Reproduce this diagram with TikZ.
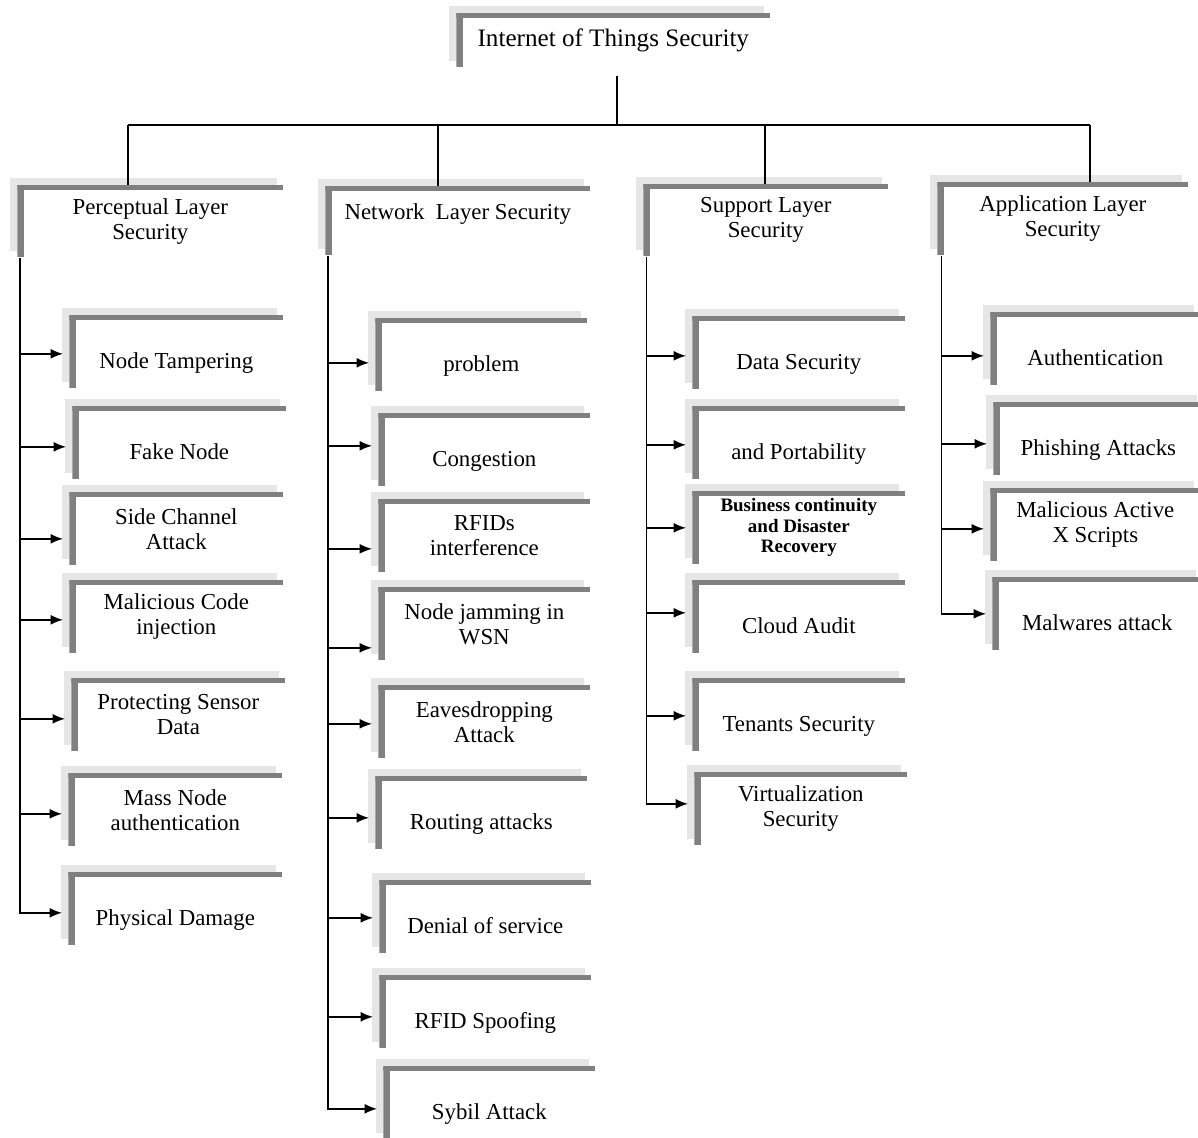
\documentclass[tikz,border=0pt]{standalone}
\usepackage{fontspec}
\setmainfont{Liberation Serif}
\usetikzlibrary{arrows.meta,backgrounds}

\definecolor{bargray}{RGB}{128,128,128}
\definecolor{shadegray}{RGB}{230,230,230}

\tikzset{
  secbox/.style={rectangle, fill=white, anchor=north west, inner sep=2pt, align=center,
    font=\fontsize{13}{14.2}\selectfont,
    path picture={
      \fill[bargray] (path picture bounding box.north west) rectangle ([xshift=0.13cm]path picture bounding box.south west);
      \fill[bargray] (path picture bounding box.north west) rectangle ([yshift=-0.1cm]path picture bounding box.north east);
    }},
  layerbox/.style={secbox, minimum height=1.44cm},
  leafbox/.style={secbox, minimum width=4.28cm, minimum height=1.46cm},
  oneline/.style={text height=22pt, text depth=3pt},
  wire/.style={line width=0.8pt},
  feed/.style={line width=0.8pt, -{Latex[length=0.25cm,width=0.2cm]}, shorten >=0.12cm},
}

\begin{document}
\begin{tikzpicture}[x=0.02cm, y=-0.02cm]
  \useasboundingbox (0,0) rectangle (1198,1138);

  % root and layers
  \node[secbox, minimum width=6.28cm, minimum height=1.08cm, font=\fontsize{14.3}{16}\selectfont] (iot) at (456,13) {Internet of Things Security};
  \node[layerbox, minimum width=5.32cm] (pl) at (17,185) {Perceptual Layer\\Security};
  \node[layerbox, minimum width=5.3cm, minimum height=1.38cm, text height=9pt, text depth=11pt] (nl) at (325,186) {Network~ Layer Security};
  \node[layerbox, minimum width=4.9cm] (sl) at (643,184) {Support Layer\\Security};
  \node[layerbox, minimum width=5.02cm, minimum height=1.46cm] (al) at (937,182) {Application Layer\\Security};

  % perceptual layer
  \node[leafbox, oneline] (pnt) at (69,315) {Node Tampering};
  \node[leafbox, oneline] (pfn) at (72,406) {Fake Node};
  \node[leafbox] (psc) at (69,492) {Side Channel\\Attack};
  \node[leafbox] (pmc) at (69,580) {Malicious Code\\injection};
  \node[leafbox] (pps) at (71,678) {Protecting Sensor\\Data};
  \node[leafbox] (pmn) at (68,773) {Mass Node\\authentication};
  \node[leafbox, oneline] (ppd) at (68,872) {Physical Damage};

  % network layer
  \node[leafbox, minimum width=4.24cm, oneline] (npr) at (375,318) {problem};
  \node[leafbox, minimum width=4.24cm, oneline] (ncg) at (378,413) {Congestion};
  \node[leafbox, minimum width=4.24cm] (nrf) at (378,499) {RFIDs\\interference};
  \node[leafbox, minimum width=4.24cm] (nnj) at (378,587) {Node jamming in\\WSN};
  \node[leafbox, minimum width=4.24cm] (nev) at (378,685) {Eavesdropping\\Attack};
  \node[leafbox, minimum width=4.24cm, oneline] (nro) at (375,776) {Routing attacks};
  \node[leafbox, minimum width=4.24cm, oneline] (nds) at (379,880) {Denial of service};
  \node[leafbox, minimum width=4.24cm, oneline] (nrs) at (379,975) {RFID Spoofing};
  \node[leafbox, minimum width=4.24cm, oneline] (nsy) at (383,1066) {Sybil Attack};

  % support layer
  \node[leafbox, minimum width=4.26cm, oneline] (sds) at (692,316) {Data Security};
  \node[leafbox, minimum width=4.26cm, oneline] (sdp) at (692,406) {and Portability};
  \node[leafbox, minimum width=4.26cm, font=\fontsize{10.8}{11.6}\selectfont\bfseries] (sbc) at (692,491) {Business continuity\\and Disaster\\Recovery};
  \node[leafbox, minimum width=4.26cm, oneline] (sca) at (692,580) {Cloud Audit};
  \node[leafbox, minimum width=4.26cm, oneline] (sts) at (692,678) {Tenants Security};
  \node[leafbox, minimum width=4.26cm] (svs) at (694,772) {Virtualization\\Security};

  % application layer
  \node[leafbox, minimum width=4.2cm, oneline] (aau) at (990,312) {Authentication};
  \node[leafbox, minimum width=4.2cm, oneline] (aph) at (993,402) {Phishing Attacks};
  \node[leafbox, minimum width=4.2cm] (ama) at (990,488) {Malicious Active\\X Scripts};
  \node[leafbox, minimum width=4.2cm, oneline] (amw) at (992,577) {Malwares attack};

  % light shade behind every box
  \begin{scope}[on background layer]
    \foreach \bx in {iot,pl,nl,sl,al,pnt,pfn,psc,pmc,pps,pmn,ppd,npr,ncg,nrf,nnj,nev,nro,nds,nrs,nsy,sds,sdp,sbc,sca,sts,svs,aau,aph,ama,amw}
      \fill[shadegray] ([shift={(-0.14cm,0.14cm)}]\bx.north west) rectangle ([shift={(-0.14cm,0.14cm)}]\bx.south east);
  \end{scope}

  % bus from the root
  \coordinate (bus) at (617,125);
  \coordinate (dp1) at (128,125);
  \coordinate (dp2) at (438,125);
  \coordinate (dp3) at (765,125);
  \coordinate (dp4) at (1090,125);
  \draw[wire, shorten <=0.16cm] (iot.south -| bus) -- (bus);
  \draw[wire] (dp1) -- (dp4);
  \draw[wire] (dp1) -- (dp1 |- pl.north);
  \draw[wire] (dp2) -- (dp2 |- nl.north);
  \draw[wire] (dp3) -- (dp3 |- sl.north);
  \draw[wire] (dp4) -- (dp4 |- al.north);

  % trunks
  \coordinate (ptr) at ([xshift=0.06cm]pl.south west);
  \coordinate (ntr) at ([xshift=0.06cm]nl.south west);
  \coordinate (str) at ([xshift=0.07cm]sl.south west);
  \coordinate (atr) at ([xshift=0.09cm]al.south west);
  \draw[feed] (ptr) |- ([shift={(0,4)}]ppd.west);
  \draw[feed] (ntr) |- ([shift={(0,6)}]nsy.west);
  \draw[feed] (str) |- ([shift={(0,-5)}]svs.west);
  \draw[feed] (atr) |- (amw.west);
  \foreach \bx/\dy in {pnt/2,pfn/4,psc/10,pmc/3,pps/4,pmn/4}
    \draw[feed] ([shift={(0,\dy)}]ptr |- \bx.west) -- ([shift={(0,\dy)}]\bx.west);
  \foreach \bx/\dy in {npr/8,ncg/-4,nrf/13,nnj/24,nev/2,nro/5,nds/1,nrs/5}
    \draw[feed] ([shift={(0,\dy)}]ntr |- \bx.west) -- ([shift={(0,\dy)}]\bx.west);
  \foreach \bx/\dy in {sds/3,sdp/2,sbc/0,sca/-4,sts/1}
    \draw[feed] ([shift={(0,\dy)}]str |- \bx.west) -- ([shift={(0,\dy)}]\bx.west);
  \foreach \bx/\dy in {aau/7,aph/5,ama/4}
    \draw[feed] ([shift={(0,\dy)}]atr |- \bx.west) -- ([shift={(0,\dy)}]\bx.west);
\end{tikzpicture}
\end{document}
